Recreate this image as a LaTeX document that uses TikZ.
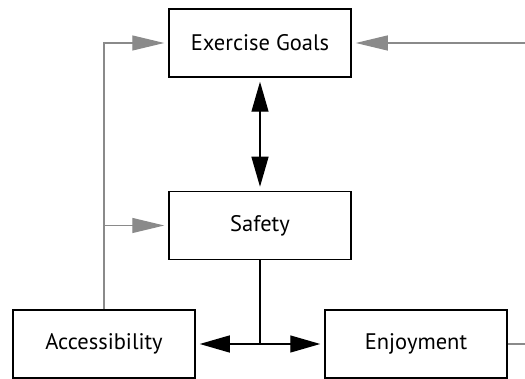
\documentclass[tikz,border=0pt]{standalone}
\usepackage{fontspec}
\setmainfont{PT Sans}
\usetikzlibrary{arrows.meta,positioning}
\definecolor{feedgray}{RGB}{138,138,138}

\begin{document}
\begin{tikzpicture}[
    x=1pt,y=1pt,
    box/.style={draw,line width=1.5pt,minimum width=182pt,minimum height=68pt,
                inner sep=0pt,font=\fontsize{22.5}{27}\selectfont},
    link/.style={{Triangle[length=30pt,width=17pt]}-{Triangle[length=30pt,width=17pt]},
                 line width=1.3pt,shorten <=4pt,shorten >=4pt},
    feed/.style={-{Triangle[length=32pt,width=15pt]},draw=feedgray,line width=1.2pt,
                 shorten >=4pt},
  ]
  \useasboundingbox (0,0) rectangle (525,379);

  \node[box] (goals) at (260,336) {Exercise Goals};
  \node[box,below=113pt of goals] (safety) {Safety};
  \node[box] (access) at (104,35) {Accessibility};
  \node[box] (enjoy) at (416,35) {Enjoyment};

  \coordinate (split) at (safety.south |- access.east);
  \coordinate (rightin) at (525,336);
  \coordinate (rightout) at (525,35);

  \draw[link] (goals) -- (safety);
  \draw[line width=1.3pt] (safety) -- (split);
  \draw[link] (access) -- (enjoy);

  \draw[feed] (access.north) |- (goals.west);
  \draw[feed] (access.north |- safety.west) -- (safety.west);
  \draw[feed] (rightin) -- (goals.east);
  \draw[draw=feedgray,line width=1.2pt] (enjoy) -- (rightout);
\end{tikzpicture}
\end{document}
